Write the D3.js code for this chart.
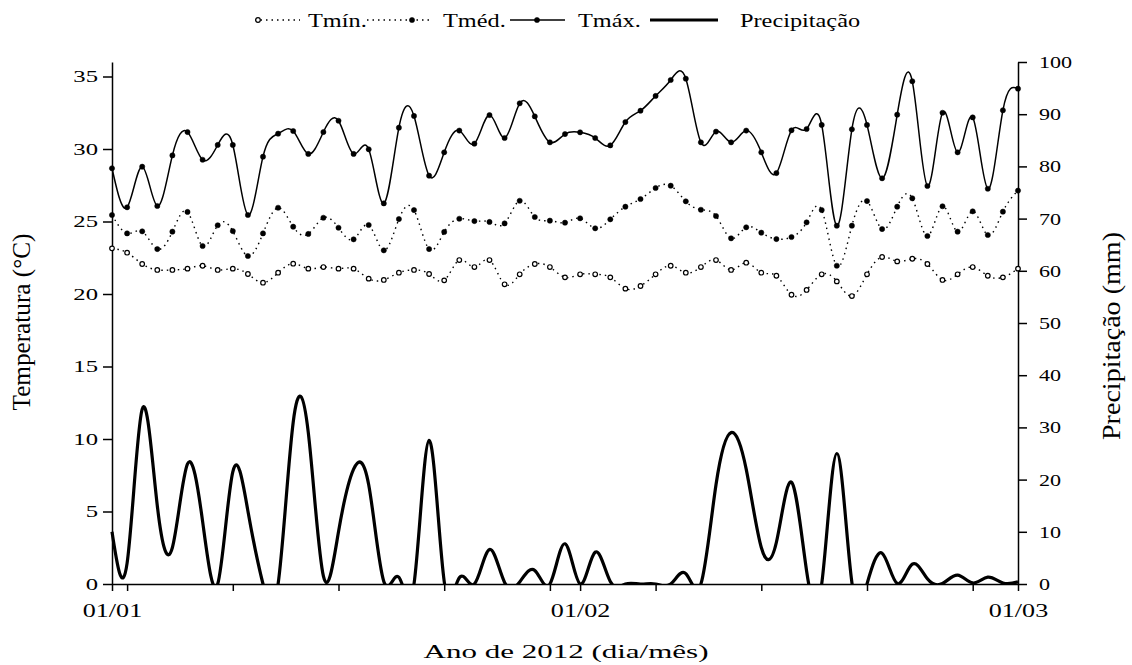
<!DOCTYPE html>
<html>
<head>
<meta charset="utf-8">
<script src="https://cdn.jsdelivr.net/npm/d3@7"></script>
<style>
  body { margin: 0; background: #fff; }
  svg { display: block; font-family: "Liberation Serif", "Times New Roman", serif; }
</style>
</head>
<body>
<svg id="chart"></svg>
<script>
// daily values, 01/01/2012 .. 01/03/2012
var tMin = [23.15, 22.85, 22.07, 21.66, 21.66, 21.75, 21.95, 21.66, 21.75, 21.38, 20.78, 21.47, 22.09, 21.75, 21.86, 21.75, 21.75, 21.06, 20.97, 21.47, 21.66,
  21.38, 20.94, 22.34, 21.86, 22.34, 20.67, 21.36, 22.07, 21.86, 21.15, 21.36, 21.36, 21.15, 20.37, 20.55, 21.36, 21.95, 21.47, 21.86, 22.34,
  21.66, 22.16, 21.47, 21.26, 19.95, 20.28, 21.36, 20.87, 19.86, 21.36, 22.55, 22.25, 22.43, 22.07, 20.97, 21.36, 21.86, 21.26, 21.15, 21.75];
var tMed = [25.45, 24.18, 24.32, 23.10, 24.30, 25.66, 23.31, 24.74, 24.34, 22.62, 24.18, 25.95, 24.64, 24.14, 25.26, 24.57, 23.77, 24.76, 23.01, 25.17, 25.79,
  23.10, 24.28, 25.19, 25.03, 24.97, 24.87, 26.43, 25.31, 25.06, 24.92, 25.22, 24.53, 25.15, 26.02, 26.55, 27.31, 27.47, 26.39, 25.81, 25.38,
  23.84, 24.60, 24.23, 23.79, 23.93, 24.94, 25.79, 21.95, 24.71, 26.41, 24.48, 26.02, 26.60, 24.00, 26.05, 24.30, 25.70, 24.07, 25.68, 27.13];
var tMax = [28.67, 25.98, 28.78, 26.07, 29.56, 31.17, 29.26, 30.28, 30.28, 25.45, 29.47, 31.06, 31.24, 29.66, 31.17, 31.95, 29.66, 29.98, 26.25, 31.47, 32.28,
  28.16, 29.77, 31.27, 30.37, 32.34, 30.76, 33.15, 32.25, 30.46, 31.03, 31.15, 30.76, 30.25, 31.86, 32.64, 33.66, 34.76, 34.85, 30.46, 31.20,
  30.46, 31.27, 29.77, 28.34, 31.29, 31.38, 31.66, 24.71, 31.36, 31.66, 27.98, 32.37, 34.67, 27.45, 32.50, 29.77, 32.18, 27.26, 32.67, 34.16];
var precip = [10, 4, 33.5, 15, 7, 23, 12, 0, 21.5, 14, 0, 0, 31, 29, 1.5, 10, 22, 19, 0.5, 1.3, 0,
  27.5, 0.5, 1.2, 0, 6.6, 0.3, 0.4, 2.6, 0, 7.7, 0, 6.1, 0.5, 0, 0, 0, 0, 2.0, 0, 19,
  29, 22, 7, 8, 19.5, 2.5, 0, 25, 0.3, 0, 5.9, 0.1, 3.8, 1.0, 0.1, 1.7, 0.2, 1.3, 0.2, 0.4];

var tempTicks = [0, 5, 10, 15, 20, 25, 30, 35];
var precTicks = [0, 10, 20, 30, 40, 50, 60, 70, 80, 90, 100];
var legendLabels = ["Tmín.", "Tméd.", "Tmáx.", "Precipitação"];

var startDate = new Date(2012, 0, 1), endDate = new Date(2012, 2, 1);
var days = d3.timeDay.range(startDate, d3.timeDay.offset(endDate, 1));

var W = 1132, H = 665;
var margin = { top: 62, right: 114, bottom: 81, left: 112 },
    width = W - margin.left - margin.right,
    height = H - margin.top - margin.bottom;

var svg = d3.select("#chart").attr("width", W).attr("height", H);
var g = svg.append("g").attr("transform", "translate(" + margin.left + "," + margin.top + ")");

var x = d3.scaleTime().domain([startDate, endDate]).range([0, width]);
var yT = d3.scaleLinear().domain([0, 36]).range([height, 0]);
var yP = d3.scaleLinear().domain([0, 100]).range([height, 0]);

// stretch text horizontally (the original figure is wide)
function stretch(sel, k) {
  sel.each(function () {
    var len = this.getComputedTextLength();
    d3.select(this).attr("textLength", len * k).attr("lengthAdjust", "spacingAndGlyphs");
  });
}

// axes
var monthTicks = d3.timeMonth.range(startDate, d3.timeDay.offset(endDate, 1));
var weekTicks = d3.timeMonday.range(startDate, endDate);
var fmt = d3.timeFormat("%d/%m");

var xAxis = d3.axisBottom(x)
  .tickValues(monthTicks.concat(weekTicks))
  .tickFormat(function (d) { return d.getDate() === 1 ? fmt(d) : ""; })
  .tickSize(7).tickSizeOuter(0).tickPadding(13);

var gx = g.append("g").attr("transform", "translate(0," + height + ")").call(xAxis);
gx.selectAll("text").attr("font-size", 18).attr("font-family", "Liberation Serif").attr("fill", "#000");
stretch(gx.selectAll("text"), 1.45);

var gyl = g.append("g").call(d3.axisLeft(yT).tickValues(tempTicks).tickSize(9).tickSizeOuter(0).tickPadding(5));
gyl.selectAll("text").attr("font-size", 17).attr("font-family", "Liberation Serif").attr("fill", "#000");
stretch(gyl.selectAll("text"), 1.45);

var gyr = g.append("g").attr("transform", "translate(" + width + ",0)")
  .call(d3.axisRight(yP).tickValues(precTicks).tickSize(9).tickSizeOuter(0).tickPadding(12));
gyr.selectAll("text").attr("font-size", 17).attr("font-family", "Liberation Serif").attr("fill", "#000");
stretch(gyr.selectAll("text"), 1.3);

[gx, gyl, gyr].forEach(function (a) {
  a.selectAll("path, line").attr("stroke", "#000").attr("stroke-width", 1.5);
});

// precipitation, spline clipped at zero
g.append("clipPath").attr("id", "clipP")
  .append("rect").attr("x", -2).attr("y", -10).attr("width", width + 4).attr("height", height + 11);

var lineP = d3.line().x(function (d, i) { return x(days[i]); }).y(function (d) { return yP(d); }).curve(d3.curveNatural);
g.append("path").datum(precip)
  .attr("clip-path", "url(#clipP)")
  .attr("fill", "none").attr("stroke", "#000").attr("stroke-width", 3.2)
  .attr("d", lineP);

// temperatures
var lineT = d3.line().x(function (d, i) { return x(days[i]); }).y(function (d) { return yT(d); }).curve(d3.curveNatural);

var series = [
  { values: tMin, dash: "1.5,4", width: 1.4, open: true },
  { values: tMed, dash: "1.5,4", width: 1.4, open: false },
  { values: tMax, dash: null, width: 1.5, open: false }
];

series.forEach(function (s) {
  g.append("path").datum(s.values)
    .attr("fill", "none").attr("stroke", "#000")
    .attr("stroke-width", s.width)
    .attr("stroke-dasharray", s.dash)
    .attr("d", lineT);
  g.selectAll(null).data(s.values).enter().append("circle")
    .attr("cx", function (d, i) { return x(days[i]); })
    .attr("cy", function (d) { return yT(d); })
    .attr("r", s.open ? 2.3 : 2.6)
    .attr("fill", s.open ? "#fff" : "#000")
    .attr("stroke", "#000").attr("stroke-width", s.open ? 1.2 : 0.5);
});

// axis titles
var xt = svg.append("text").attr("x", margin.left + width / 2 + 1).attr("y", 658)
  .attr("text-anchor", "middle").attr("font-size", 18).text("Ano de 2012 (dia/mês)");
xt.attr("textLength", 285).attr("lengthAdjust", "spacingAndGlyphs");

svg.append("text").attr("transform", "translate(30,322) rotate(-90)")
  .attr("text-anchor", "middle").attr("font-size", 25)
  .attr("textLength", 177).attr("lengthAdjust", "spacingAndGlyphs")
  .text("Temperatura (°C)");

svg.append("text").attr("transform", "translate(1120,336) rotate(-90)")
  .attr("text-anchor", "middle").attr("font-size", 25)
  .attr("textLength", 208).attr("lengthAdjust", "spacingAndGlyphs")
  .text("Precipitação (mm)");

// legend
var leg = svg.append("g");
var ly = 20;
var legItems = [
  { x1: 255, x2: 300, mk: 258, dash: "1.5,4", w: 1.4, open: true, tx: 308 },
  { x1: 367, x2: 432, mk: 412, dash: "1.5,4", w: 1.4, open: false, tx: 443 },
  { x1: 510, x2: 565, mk: 537, dash: null, w: 1.5, open: false, tx: 578 },
  { x1: 650, x2: 718, mk: null, dash: null, w: 3.2, open: false, tx: 740 }
];
legItems.forEach(function (it, i) {
  leg.append("line").attr("x1", it.x1).attr("x2", it.x2).attr("y1", ly).attr("y2", ly)
    .attr("stroke", "#000").attr("stroke-width", it.w).attr("stroke-dasharray", it.dash);
  if (it.mk !== null) {
    leg.append("circle").attr("cx", it.mk).attr("cy", ly).attr("r", it.open ? 2.3 : 2.6)
      .attr("fill", it.open ? "#fff" : "#000").attr("stroke", "#000").attr("stroke-width", it.open ? 1.2 : 0.5);
  }
  var t = leg.append("text").attr("x", it.tx).attr("y", ly + 7).attr("font-size", 18).text(legendLabels[i]);
  stretch(t, 1.35);
});
</script>
</body>
</html>
